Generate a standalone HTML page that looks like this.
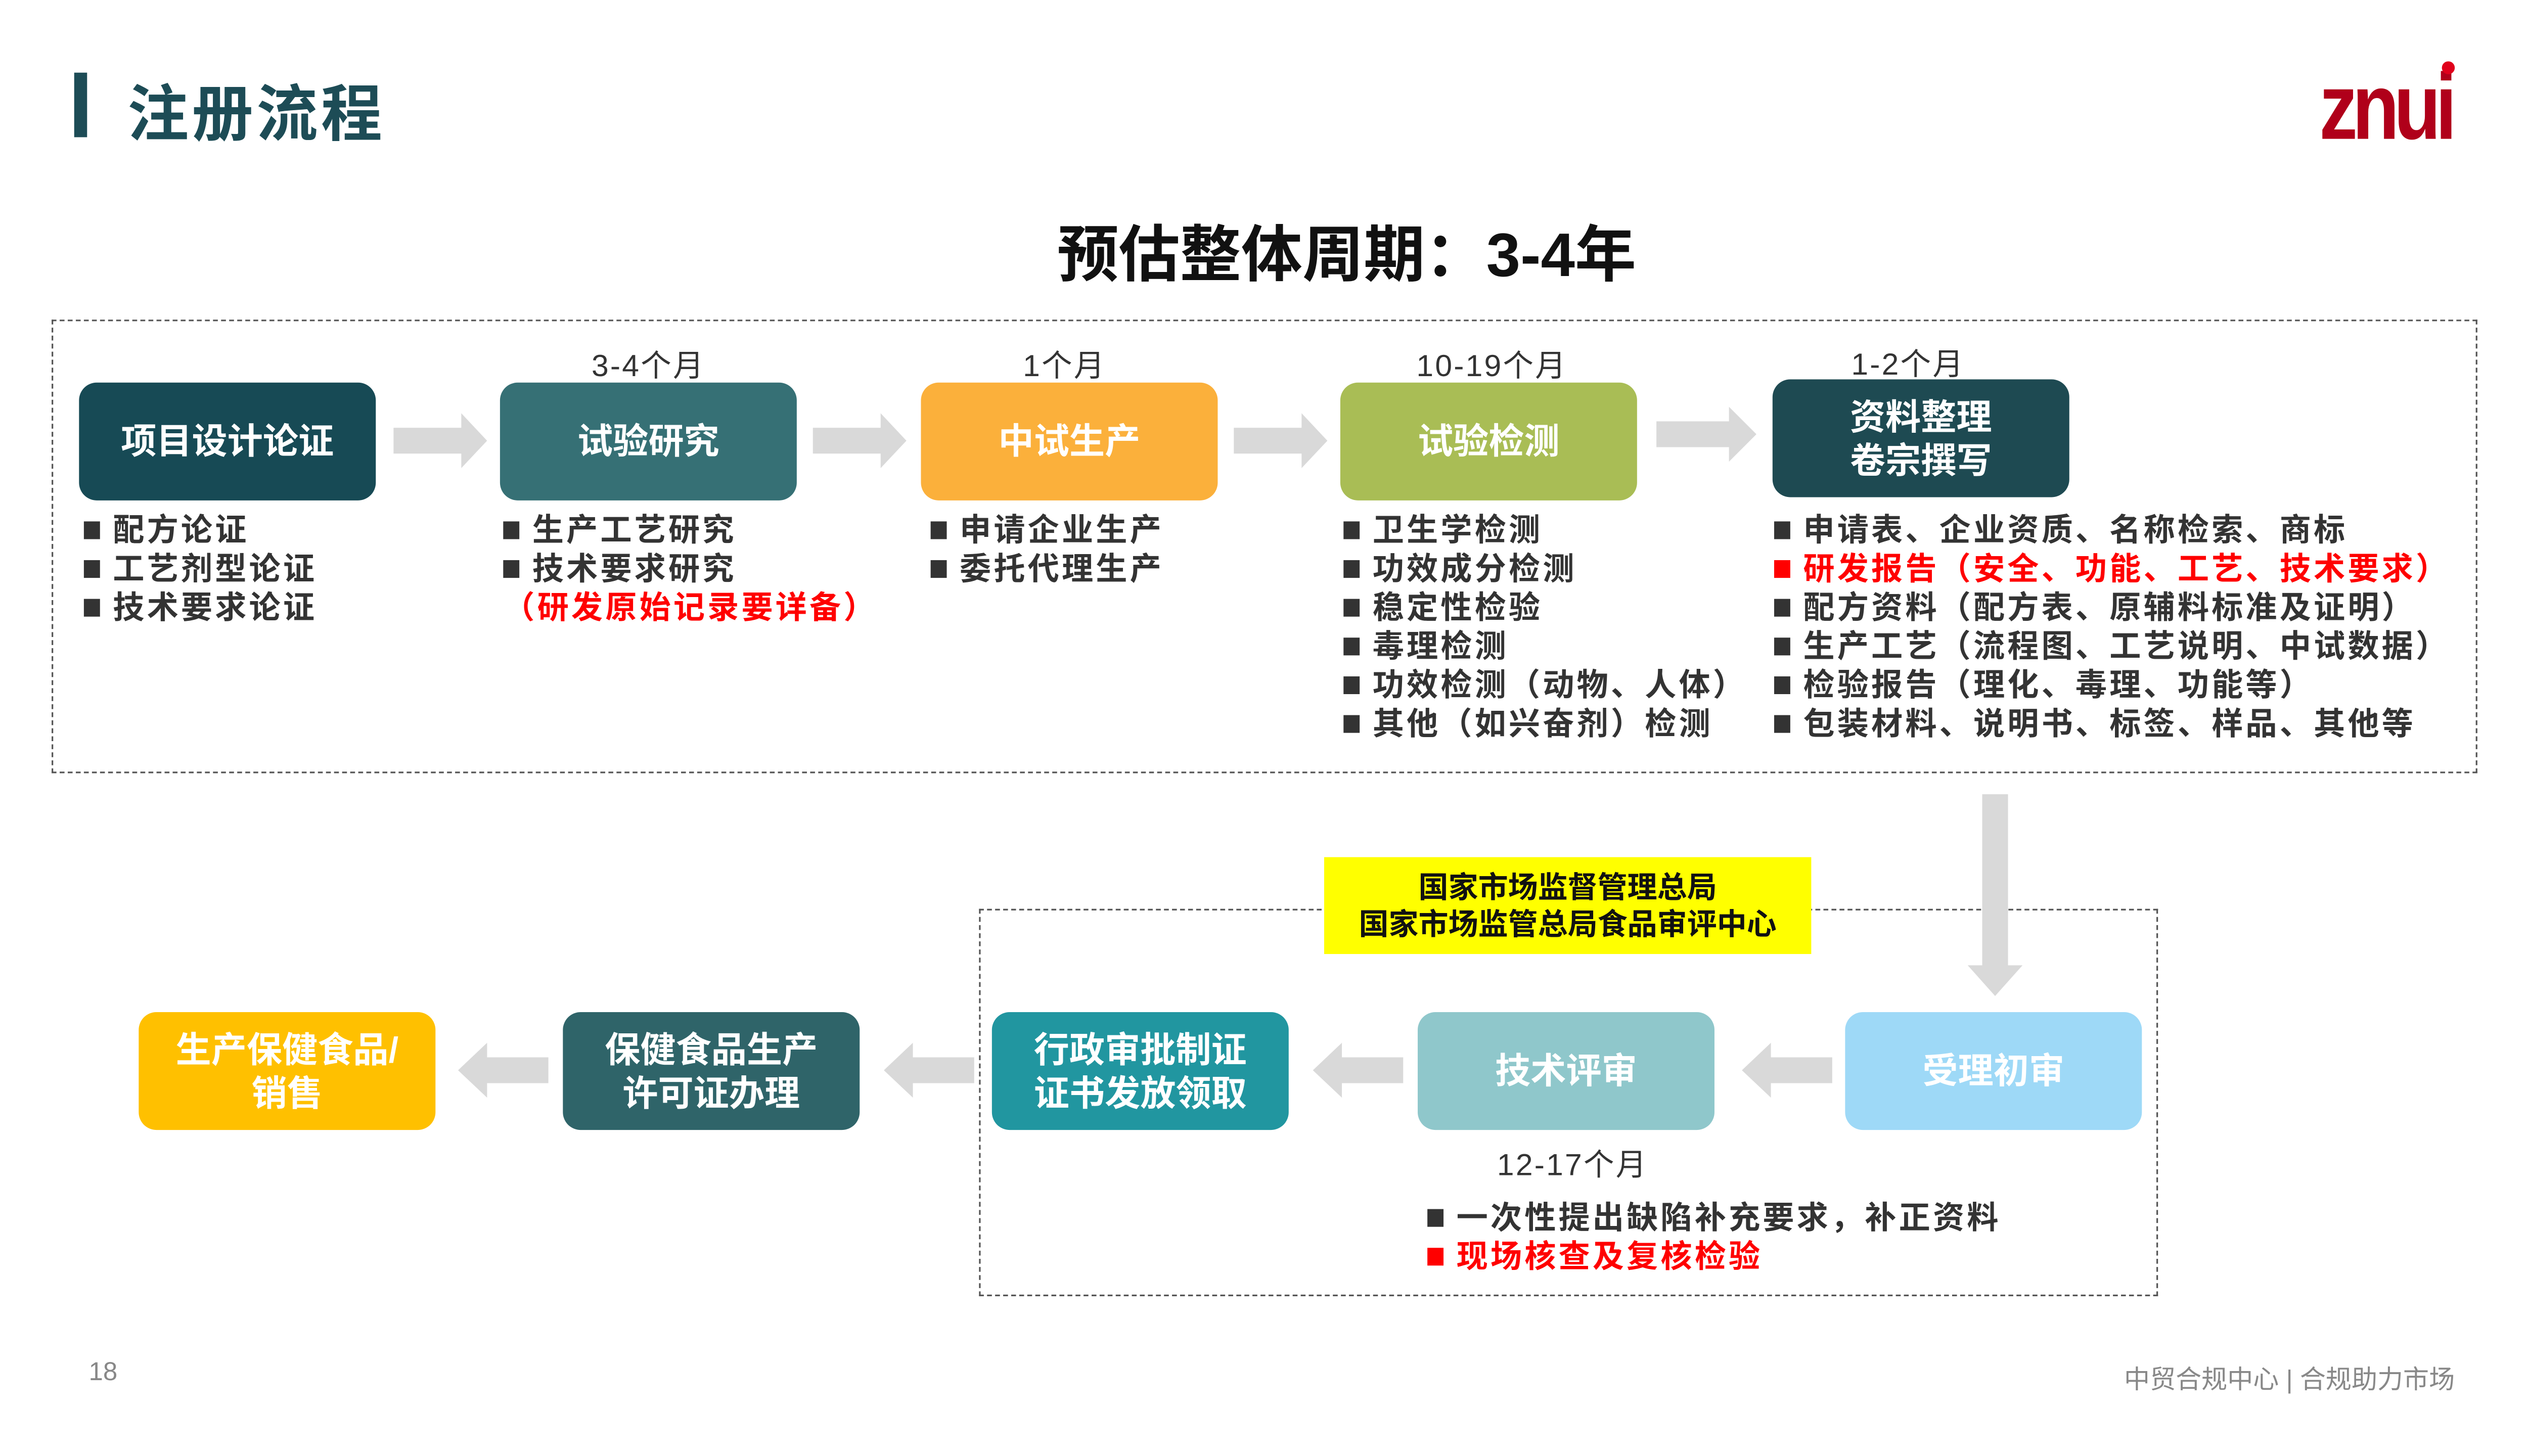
<!DOCTYPE html>
<html><head><meta charset="utf-8"><style>
html,body{margin:0;padding:0;background:#fff;}
body{width:5120px;height:2880px;overflow:hidden;}
#s{position:absolute;left:0;top:0;width:1600px;height:900px;transform:scale(3.19,3.193);transform-origin:0 0;font-family:"Liberation Sans","Noto Sans CJK SC",sans-serif;font-weight:bold;}
.a{position:absolute;}
.box{position:absolute;border-radius:11px;color:#fff;font-weight:bold;font-size:22px;display:flex;align-items:center;justify-content:center;text-align:center;line-height:27px;}
.lbl{position:absolute;font-size:19px;color:#333;text-align:center;width:160px;letter-spacing:1px;font-weight:normal;}
.ul{position:absolute;font-size:19.5px;color:#333;line-height:24px;letter-spacing:1.6px;white-space:nowrap;font-weight:bold;}
.ul b{display:inline-block;width:10px;height:11px;background:#333;margin-right:8px;vertical-align:1px;}
.red{color:#f00;}
.red b{background:#f00;}
</style></head><body><div id="s">
<div class="a" style="left:46px;top:45px;width:8px;height:40px;background:#1d4c56"></div>
<div class="a" style="left:79px;top:40px;font-size:38px;font-weight:bold;color:#1d4c56;letter-spacing:2px">注册流程</div>
<div class="a" style="left:1438px;top:33px;font-size:58px;font-weight:bold;color:#b0001a;letter-spacing:-4px;transform:scaleX(0.82);transform-origin:0 0">znui</div>
<div class="a" style="left:1514px;top:38px;width:8px;height:8px;border-radius:50%;background:#e0001b"></div>
<div class="a" style="left:0;width:1670px;top:127px;text-align:center;font-size:38px;font-weight:bold;color:#111">预估整体周期：3-4年</div>

<div class="a" style="left:32px;top:198px;width:1502px;height:279px;border:1px dashed #555"></div>
<div class="a" style="left:607px;top:563px;width:729px;height:238px;border:1px dashed #555"></div>

<svg class="a" style="left:0;top:0" width="1560" height="880">
<g fill="#d9d9d9">
<polygon points="244,265 286,265 286,256 302,273 286,290 286,281 244,281"/>
<polygon points="504,265 546,265 546,256 562,273 546,290 546,281 504,281"/>
<polygon points="765,265 807,265 807,256 823,273 807,290 807,281 765,281"/>
<polygon points="1027,261 1072,261 1072,252 1089,269 1072,286 1072,277 1027,277"/>
<polygon points="1229,492 1245,492 1245,598 1254,598 1237,617 1220,598 1229,598"/>
<polygon points="1136,655 1098,655 1098,646 1080,663 1098,680 1098,671 1136,671"/>
<polygon points="870,655 832,655 832,646 814,663 832,680 832,671 870,671"/>
<polygon points="604,655 566,655 566,646 548,663 566,680 566,671 604,671"/>
<polygon points="340,655 302,655 302,646 284,663 302,680 302,671 340,671"/>
</g></svg>

<div class="lbl" style="left:322px;top:212px">3-4个月</div>
<div class="lbl" style="left:580px;top:212px">1个月</div>
<div class="lbl" style="left:845px;top:212px">10-19个月</div>
<div class="lbl" style="left:1103px;top:211px">1-2个月</div>

<div class="box" style="left:49px;top:237px;width:184px;height:73px;background:#174a55">项目设计论证</div>
<div class="box" style="left:310px;top:237px;width:184px;height:73px;background:#367075">试验研究</div>
<div class="box" style="left:571px;top:237px;width:184px;height:73px;background:#fbb03b">中试生产</div>
<div class="box" style="left:831px;top:237px;width:184px;height:73px;background:#a9bd55">试验检测</div>
<div class="box" style="left:1099px;top:235px;width:184px;height:73px;background:#1e4a52">资料整理<br>卷宗撰写</div>

<div class="ul" style="left:52px;top:317px"><b></b>配方论证<br><b></b>工艺剂型论证<br><b></b>技术要求论证</div>
<div class="ul" style="left:312px;top:317px"><b></b>生产工艺研究<br><b></b>技术要求研究<br><span class="red">（研发原始记录要详备）</span></div>
<div class="ul" style="left:577px;top:317px"><b></b>申请企业生产<br><b></b>委托代理生产</div>
<div class="ul" style="left:833px;top:317px"><b></b>卫生学检测<br><b></b>功效成分检测<br><b></b>稳定性检验<br><b></b>毒理检测<br><b></b>功效检测（动物、人体）<br><b></b>其他（如兴奋剂）检测</div>
<div class="ul" style="left:1100px;top:317px"><b></b>申请表、企业资质、名称检索、商标<br><span class="red"><b></b>研发报告（安全、功能、工艺、技术要求）</span><br><b></b>配方资料（配方表、原辅料标准及证明）<br><b></b>生产工艺（流程图、工艺说明、中试数据）<br><b></b>检验报告（理化、毒理、功能等）<br><b></b>包装材料、说明书、标签、样品、其他等</div>

<div class="a" style="left:821px;top:531px;width:302px;height:60px;background:#ffff00;color:#111;font-weight:bold;font-size:18.5px;line-height:23px;text-align:center;display:flex;align-items:center;justify-content:center">国家市场监督管理总局<br>国家市场监管总局食品审评中心</div>

<div class="box" style="left:86px;top:627px;width:184px;height:73px;background:#ffc000">生产保健食品/<br>销售</div>
<div class="box" style="left:349px;top:627px;width:184px;height:73px;background:#2f6469">保健食品生产<br>许可证办理</div>
<div class="box" style="left:615px;top:627px;width:184px;height:73px;background:#2196a0">行政审批制证<br>证书发放领取</div>
<div class="box" style="left:879px;top:627px;width:184px;height:73px;background:#8fc7cb">技术评审</div>
<div class="box" style="left:1144px;top:627px;width:184px;height:73px;background:#9ed9f7">受理初审</div>

<div class="lbl" style="left:895px;top:707px">12-17个月</div>
<div class="ul" style="left:885px;top:743px"><b></b>一次性提出缺陷补充要求，补正资料<br><span class="red"><b></b>现场核查及复核检验</span></div>

<div class="a" style="left:55px;top:842px;font-size:16px;color:#888;font-weight:normal">18</div>
<div class="a" style="left:1250px;width:272px;text-align:right;top:841px;font-size:16px;color:#888;font-weight:normal">中贸合规中心 | 合规助力市场</div>
</div></body></html>
